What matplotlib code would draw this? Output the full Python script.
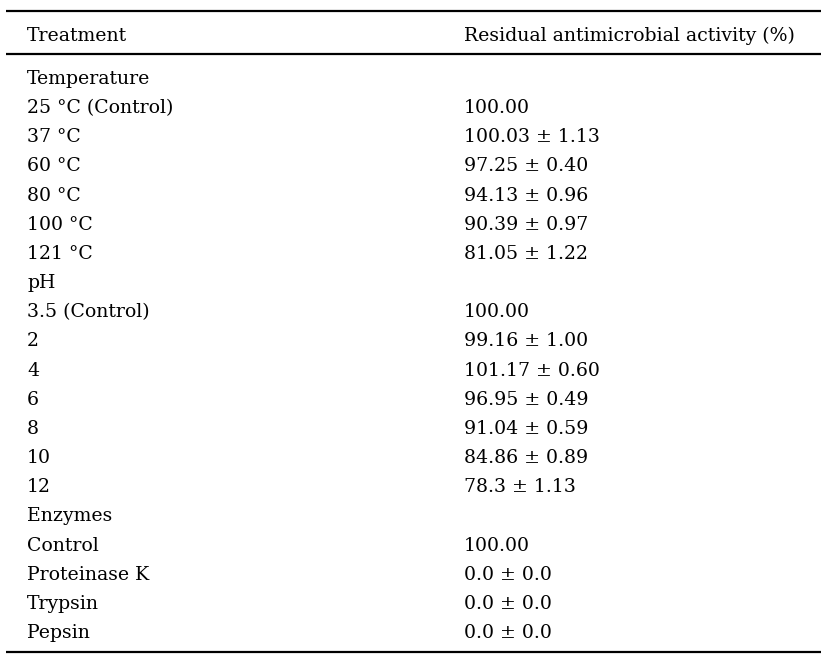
import matplotlib
matplotlib.use("Agg")
import matplotlib.pyplot as plt

header = ["Treatment", "Residual antimicrobial activity (%)"]
row_labels = ["Temperature", "25 °C (Control)", "37 °C", "60 °C", "80 °C", "100 °C", "121 °C",
              "pH", "3.5 (Control)", "2", "4", "6", "8", "10", "12",
              "Enzymes", "Control", "Proteinase K", "Trypsin", "Pepsin"]
row_values = ["", "100.00", "100.03 ± 1.13", "97.25 ± 0.40", "94.13 ± 0.96", "90.39 ± 0.97", "81.05 ± 1.22",
              "", "100.00", "99.16 ± 1.00", "101.17 ± 0.60", "96.95 ± 0.49", "91.04 ± 0.59", "84.86 ± 0.89", "78.3 ± 1.13",
              "", "100.00", "0.0 ± 0.0", "0.0 ± 0.0", "0.0 ± 0.0"]

W, H = 831, 655
fig = plt.figure(figsize=(W / 100, H / 100), dpi=100)
ax = fig.add_axes([0, 0, 1, 1])
ax.set_xlim(0, W)
ax.set_ylim(H, 0)
ax.axis("off")

font = dict(family="DejaVu Serif", fontsize=13.6, color="black", va="baseline")

x_left, x_right = 27, 464
ax.text(x_left, 41, header[0], **font)
ax.text(x_right, 41, header[1], **font)

y0, dy = 84, 29.16
for i, (lab, val) in enumerate(zip(row_labels, row_values)):
    y = y0 + i * dy
    ax.text(x_left, y, lab, **font)
    if val:
        ax.text(x_right, y, val, **font)

for y in [11, 54, 652]:
    ax.plot([6, 821], [y, y], color="black", lw=1.6, solid_capstyle="butt")

fig.savefig("out.png", dpi=100)
